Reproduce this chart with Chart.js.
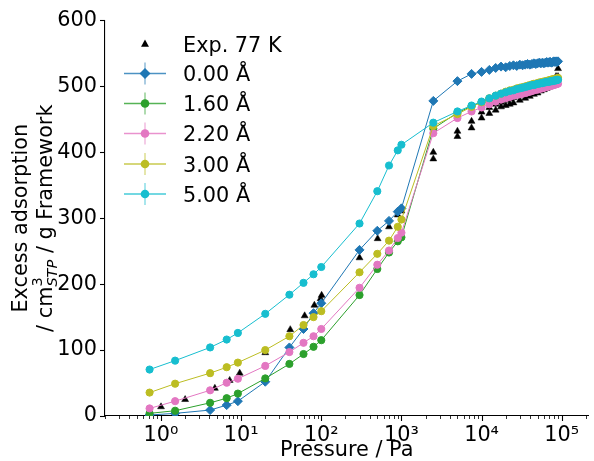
<!DOCTYPE html>
<html>
<head>
<meta charset="utf-8">
<script src="https://cdn.jsdelivr.net/npm/chart.js@4.4.1/dist/chart.umd.min.js"></script>
<style>
  html, body { margin: 0; padding: 0; background: #fff; overflow: hidden; }
  #wrap { width: 594px; height: 461px; position: relative; }
</style>
</head>
<body>
<div id="wrap"><canvas id="chart" width="594" height="461"></canvas></div>
<script>
// Excess adsorption isotherms at 77 K - simulated vs experiment

const FONT = 'DejaVu Sans';
const FS = 20.8;

// simulated pressures (Pa), shared by every simulated series
const simPressure = [0.72, 1.5, 4.1, 6.6, 9.1, 20, 40, 60, 80, 100, 300, 500, 700, 900, 1000,
  2500, 5000, 7500, 10000, 12500, 15000, 17500, 20000, 22500, 25000, 27500, 30000, 32500, 35000,
  37500, 40000, 42500, 45000, 47500, 50000, 52500, 55000, 57500, 60000, 62500, 65000, 67500,
  70000, 72500, 75000, 77500, 80000, 82500, 85000, 87500, 90000];

const sim000 = [1.5, 4, 9, 16.5, 22.5, 52, 104, 132, 156, 171, 252, 281, 296, 310, 315,
  478, 508, 519, 522, 525, 528, 530, 529, 531, 532, 531, 533, 532, 533, 534, 533, 534, 535, 534,
  535, 536, 535, 536, 535, 536, 537, 536, 537, 537, 536, 537, 538, 537, 538, 537, 538];
const sim160 = [4, 8, 20, 27, 34, 57, 79, 94, 105, 115, 183.5, 223, 248, 265, 271,
  436, 460, 470, 476, 481, 485, 488, 490, 492, 493, 495, 496, 497, 498, 499, 500, 501, 502, 502,
  503, 504, 504, 505, 505, 506, 506, 507, 507, 508, 508, 508, 509, 509, 510, 510, 511];
const sim220 = [11.5, 22.5, 39, 50.5, 56.5, 76, 97, 111, 121, 132, 194.5, 229.5, 251, 270, 278,
  429, 452, 462, 468, 473, 477, 480, 482, 484, 486, 487, 488, 489, 490, 491, 492, 493, 494, 495,
  495, 496, 497, 497, 498, 499, 499, 500, 500, 501, 501, 502, 502, 503, 503, 504, 504];
const sim300 = [35.5, 49, 65, 74, 81, 100, 121, 138, 150, 159, 218, 246, 266, 287, 298,
  440, 458, 469, 476, 482, 486, 489, 492, 494, 495, 497, 498, 499, 500, 501, 502, 503, 504, 504,
  505, 506, 506, 507, 507, 508, 508, 509, 509, 510, 510, 511, 511, 511, 512, 512, 513];
const sim500 = [70.5, 84, 104, 116, 126, 155, 184, 202, 215, 226, 292, 341, 380, 403, 411.5,
  445, 462, 471, 477, 482, 486, 489, 491, 493, 494, 496, 497, 498, 499, 500, 501, 502, 502, 503,
  504, 504, 505, 505, 506, 506, 507, 507, 507, 508, 508, 508, 509, 509, 509, 510, 510];

// experiment, 77 K (two close branches at high pressure)
const expPressure = [1.0, 2.0, 4.7, 7.2, 9.6, 20, 41, 62, 82, 98, 101, 300, 505, 700, 900, 1000, 2500, 2500,
  5000, 7500, 10000, 12500, 15000, 17500, 20000, 22500, 25000, 30000, 35000, 40000, 45000, 50000,
  55000, 60000, 65000, 70000, 75000, 80000, 85000, 90000,
  5000, 7500, 10000, 12500, 15000, 17500, 20000, 22500, 25000, 30000, 35000, 40000, 45000, 50000,
  55000, 60000, 65000, 70000, 75000, 80000, 85000, 90000];
const expValue = [14, 25, 42, 54, 65, 96, 131, 152, 168, 178, 183, 240, 269, 287, 305, 311, 390, 400,
  432, 447, 461, 468, 473, 476, 479, 481, 483, 487, 490, 493, 496, 498,
  500, 502, 504, 506, 508, 511, 515, 527,
  424, 437, 452, 459, 464, 469, 471, 473, 475, 479, 482, 485, 488, 490,
  493, 495, 497, 499, 502, 505, 508, 515];

const seriesLabels = ['0.00 Å', '1.60 Å', '2.20 Å', '3.00 Å', '5.00 Å'];
const seriesValues = [sim000, sim160, sim220, sim300, sim500];
const seriesColors = ['#1f77b4', '#2ca02c', '#e377c2', '#bcbd22', '#17becf'];
const seriesMarkers = ['rectRot', 'circle', 'circle', 'circle', 'circle'];
const expLabel = 'Exp. 77 K';

const xMajorTicks = [1, 10, 100, 1000, 10000, 100000];
const xTickLabels = ['10⁰', '10¹', '10²', '10³', '10⁴', '10⁵'];
const xMin = 0.2, xMax = 216000;
const yTicks = [0, 100, 200, 300, 400, 500, 600];

function toPoints(xs, ys) {
  return xs.map((x, i) => ({ x, y: ys[i] }));
}

// minor tick positions for the log axis
const xTickValues = [];
for (let e = -1; e <= 5; e++) {
  for (let m = 1; m <= 9; m++) {
    const v = m * Math.pow(10, e);
    if (v >= xMin && v <= xMax) xTickValues.push(v);
  }
}

const datasets = seriesLabels.map((label, i) => ({
  label,
  data: toPoints(simPressure, seriesValues[i]),
  borderColor: seriesColors[i],
  backgroundColor: seriesColors[i],
  pointBackgroundColor: seriesColors[i],
  pointBorderColor: seriesColors[i],
  pointStyle: seriesMarkers[i],
  pointRadius: seriesMarkers[i] === 'rectRot' ? 4.5 : 3.6,
  pointBorderWidth: 1,
  borderWidth: 1,
  showLine: true,
  order: 5 - i
}));
datasets.push({
  label: expLabel,
  data: toPoints(expPressure, expValue),
  borderColor: '#000',
  backgroundColor: '#000',
  pointStyle: 'triangle',
  pointRadius: 4,
  pointBorderWidth: 0.5,
  showLine: false,
  order: 10
});

function drawMarker(ctx, style, x, y, color, r) {
  ctx.save();
  ctx.fillStyle = color;
  ctx.beginPath();
  if (style === 'circle') {
    ctx.arc(x, y, r, 0, Math.PI * 2);
  } else if (style === 'rectRot') {
    ctx.moveTo(x, y - r); ctx.lineTo(x + r, y); ctx.lineTo(x, y + r); ctx.lineTo(x - r, y);
    ctx.closePath();
  } else {
    ctx.moveTo(x, y - r); ctx.lineTo(x + r * 0.9, y + r * 0.6); ctx.lineTo(x - r * 0.9, y + r * 0.6);
    ctx.closePath();
  }
  ctx.fill();
  ctx.restore();
}

const decorPlugin = {
  id: 'decor',
  afterDraw(chart) {
    const ctx = chart.ctx;
    const xs = chart.scales.x, ys = chart.scales.y;
    const area = chart.chartArea;
    ctx.save();
    ctx.strokeStyle = '#000';
    // x ticks (major longer than minor)
    xs.ticks.forEach(t => {
      const px = Math.round(xs.getPixelForValue(t.value)) + 0.5;
      const major = xMajorTicks.includes(t.value);
      ctx.lineWidth = major ? 1.1 : 0.8;
      ctx.beginPath();
      ctx.moveTo(px, area.bottom);
      ctx.lineTo(px, area.bottom + (major ? 5 : 3));
      ctx.stroke();
    });
    ys.ticks.forEach(t => {
      const py = Math.round(ys.getPixelForValue(t.value)) + 0.5;
      ctx.lineWidth = 1.1;
      ctx.beginPath();
      ctx.moveTo(area.left - 5, py);
      ctx.lineTo(area.left, py);
      ctx.stroke();
    });

    // y axis title with super/subscripts
    ctx.fillStyle = '#000';
    ctx.textBaseline = 'middle';
    const cy = (area.top + area.bottom) / 2;
    const big = FS + 'px "' + FONT + '"';
    const sup = (FS * 0.7) + 'px "' + FONT + '"';
    const sub = 'italic ' + (FS * 0.7) + 'px "' + FONT + '"';
    ctx.save();
    ctx.translate(22, cy);
    ctx.rotate(-Math.PI / 2);
    ctx.font = big;
    ctx.textAlign = 'center';
    ctx.fillText('Excess adsorption', 0, 0);
    ctx.restore();

    ctx.save();
    ctx.translate(47, cy);
    ctx.rotate(-Math.PI / 2);
    ctx.textAlign = 'left';
    ctx.font = big; const w1 = ctx.measureText('/ cm').width;
    const w3 = ctx.measureText(' / g Framework').width;
    ctx.font = sup; const w2a = ctx.measureText('3').width;
    ctx.font = sub; const w2b = ctx.measureText('STP').width;
    const w2 = Math.max(w2a, w2b);
    const x0 = -(w1 + w2 + w3) / 2;
    ctx.font = big; ctx.fillText('/ cm', x0, 0);
    ctx.font = sup; ctx.fillText('3', x0 + w1, -9);
    ctx.font = sub; ctx.fillText('STP', x0 + w1, 6);
    ctx.font = big; ctx.fillText(' / g Framework', x0 + w1 + w2, 0);
    ctx.restore();

    // legend
    const rowY = [44, 73.5, 103.5, 133.5, 164, 194];
    ctx.font = big;
    ctx.textAlign = 'left';
    ctx.textBaseline = 'alphabetic';
    ctx.fillStyle = '#000';
    ctx.fillText(expLabel, 183, rowY[0] + 7.5);
    drawMarker(ctx, 'triangle', 145, rowY[0], '#000', 4.4);
    seriesLabels.forEach((label, i) => {
      const y = rowY[i + 1];
      ctx.save();
      ctx.strokeStyle = seriesColors[i];
      ctx.globalAlpha = 0.8;
      ctx.lineWidth = 1.5;
      ctx.beginPath();
      ctx.moveTo(124, y); ctx.lineTo(166, y);
      ctx.stroke();
      ctx.globalAlpha = 0.5;
      ctx.beginPath();
      ctx.moveTo(145, y - 11); ctx.lineTo(145, y + 11);
      ctx.stroke();
      ctx.restore();
      drawMarker(ctx, seriesMarkers[i], 145, y, seriesColors[i], seriesMarkers[i] === 'rectRot' ? 5.5 : 4.3);
      ctx.fillStyle = '#000';
      ctx.fillText(label, 183, y + 7.5);
    });
    ctx.restore();
  }
};

new Chart(document.getElementById('chart'), {
  type: 'scatter',
  data: { datasets },
  plugins: [decorPlugin],
  options: {
    responsive: false,
    animation: false,
    devicePixelRatio: 1,
    layout: { padding: { top: 17, right: 0, left: 0, bottom: 0 } },
    plugins: { legend: { display: false }, tooltip: { enabled: false } },
    elements: { line: { tension: 0 } },
    scales: {
      x: {
        type: 'logarithmic',
        min: xMin,
        max: xMax,
        afterBuildTicks: scale => { scale.ticks = xTickValues.map(v => ({ value: v })); },
        afterFit: scale => { scale.height = 45; },
        grid: { display: false, drawTicks: false },
        border: { display: true, color: '#000', width: 1.1 },
        ticks: {
          autoSkip: false, maxRotation: 0, minRotation: 0, padding: 7,
          color: '#000', font: { family: FONT, size: FS },
          callback: v => { const k = xMajorTicks.indexOf(v); return k >= 0 ? xTickLabels[k] : ''; }
        },
        title: {
          display: true, text: 'Pressure / Pa', color: '#000',
          font: { family: FONT, size: FS, lineHeight: 1 }, padding: { top: 0, bottom: 0 }
        }
      },
      y: {
        min: 0,
        max: 600,
        afterBuildTicks: scale => { scale.ticks = yTicks.map(v => ({ value: v })); },
        afterFit: scale => { scale.width = 105; },
        grid: { display: false, drawTicks: false },
        border: { display: true, color: '#000', width: 1.1 },
        ticks: { padding: 8, color: '#000', font: { family: FONT, size: FS } }
      }
    }
  }
});
</script>
</body>
</html>
